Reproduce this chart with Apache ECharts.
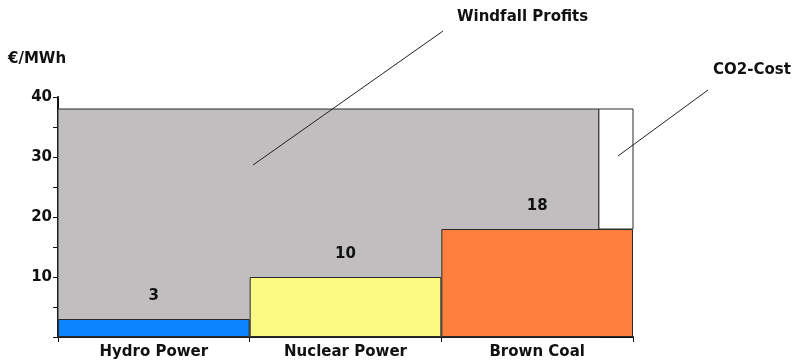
<!DOCTYPE html>
<html>
<head>
<meta charset="utf-8">
<script src="https://cdn.jsdelivr.net/npm/echarts@6/dist/echarts.min.js"></script>
<style>
  html, body { margin: 0; padding: 0; background: #fff; }
  #chart { width: 802px; height: 361px; }
</style>
</head>
<body>
<div id="chart"></div>
<script>
// Merit order: generation cost per technology, market price set by the marginal plant
const categories = ['Hydro Power', 'Nuclear Power', 'Brown Coal'];
const costs = [3, 10, 18];
const costColors = ['#0A84FF', '#FDFA84', '#FF7F3F'];
const co2Cost = 20;                 // CO2 cost added to the marginal plant (Brown Coal)
const marketPrice = costs[2] + co2Cost;
const yTicks = [0, 10, 20, 30, 40];

const FONT = 'DejaVu Sans';
const FS = 15;
const chart = echarts.init(document.getElementById('chart'), null, { renderer: 'canvas' });

const CO2_SHARE = 0.178;            // share of the marginal column drawn as the CO2 block
const strokeColor = '#2a2a2a';

chart.setOption({
  animation: false,
  backgroundColor: '#ffffff',
  grid: { left: 58, right: 169, top: 97, bottom: 24 },
  xAxis: {
    type: 'category',
    data: categories,
    boundaryGap: true,
    axisLine: { lineStyle: { color: '#111', width: 2 } },
    axisTick: { show: true, alignWithLabel: false, length: 5, lineStyle: { color: '#111', width: 1 } },
    axisLabel: { color: '#111', fontFamily: FONT, fontWeight: 'bold', fontSize: FS, margin: 8 }
  },
  yAxis: {
    type: 'value',
    min: yTicks[0],
    max: yTicks[yTicks.length - 1],
    interval: 10,
    name: '€/MWh',
    nameLocation: 'end',
    nameGap: 30,
    nameTextStyle: { color: '#111', fontFamily: FONT, fontWeight: 'bold', fontSize: FS, align: 'left', padding: [0, 0, 0, -50] },
    axisLine: { show: true, lineStyle: { color: '#111', width: 2 } },
    axisTick: { show: true, length: 5, lineStyle: { color: '#111', width: 1 } },
    minorTick: { show: true, splitNumber: 2, length: 5, lineStyle: { color: '#111', width: 1 } },
    splitLine: { show: false },
    axisLabel: { showMinLabel: false, color: '#111', fontFamily: FONT, fontWeight: 'bold', fontSize: FS, margin: 6 }
  },
  series: [
    {
      name: 'Windfall Profits',
      type: 'custom',
      z: 1,
      data: [[0, 2, marketPrice]],
      renderItem: function (params, api) {
        const band = api.size([1, 0])[0];
        const left = api.coord([api.value(0), 0])[0] - band / 2;
        const right = api.coord([api.value(1), 0])[0] + band / 2 - band * CO2_SHARE;
        const top = api.coord([0, api.value(2)])[1];
        const bottom = api.coord([0, 0])[1];
        return {
          type: 'rect',
          shape: { x: left, y: top, width: right - left, height: bottom - top },
          style: { fill: '#C1BEBF', stroke: strokeColor, lineWidth: 1 }
        };
      }
    },
    {
      name: 'CO2-Cost',
      type: 'custom',
      z: 3,
      data: [[2, costs[2], marketPrice]],
      renderItem: function (params, api) {
        const band = api.size([1, 0])[0];
        const right = api.coord([api.value(0), 0])[0] + band / 2;
        const left = right - band * CO2_SHARE;
        const top = api.coord([0, api.value(2)])[1];
        const bottom = api.coord([0, api.value(1)])[1];
        return {
          type: 'rect',
          shape: { x: left, y: top, width: right - left, height: bottom - top },
          style: { fill: '#ffffff', stroke: strokeColor, lineWidth: 1 }
        };
      }
    },
    {
      name: 'Cost',
      type: 'bar',
      z: 4,
      barWidth: '100%',
      data: costs.map((v, i) => ({
        value: v,
        itemStyle: { color: costColors[i], borderColor: strokeColor, borderWidth: 1 }
      })),
      label: {
        show: true,
        position: 'top',
        distance: 15,
        color: '#111',
        fontFamily: FONT,
        fontWeight: 'bold',
        fontSize: FS
      }
    }
  ],
  graphic: [
    {
      type: 'text', left: 457, top: 10,
      style: { text: 'Windfall Profits', fill: '#111', font: 'bold 15px "DejaVu Sans"' }
    },
    {
      type: 'line', z: 10,
      shape: { x1: 253, y1: 165, x2: 443, y2: 31 },
      style: { stroke: '#222', lineWidth: 1 }
    },
    {
      type: 'text', left: 713, top: 63,
      style: { text: 'CO2-Cost', fill: '#111', font: 'bold 15px "DejaVu Sans"' }
    },
    {
      type: 'line', z: 10,
      shape: { x1: 618, y1: 156, x2: 708, y2: 90 },
      style: { stroke: '#222', lineWidth: 1 }
    }
  ]
});
</script>
</body>
</html>
